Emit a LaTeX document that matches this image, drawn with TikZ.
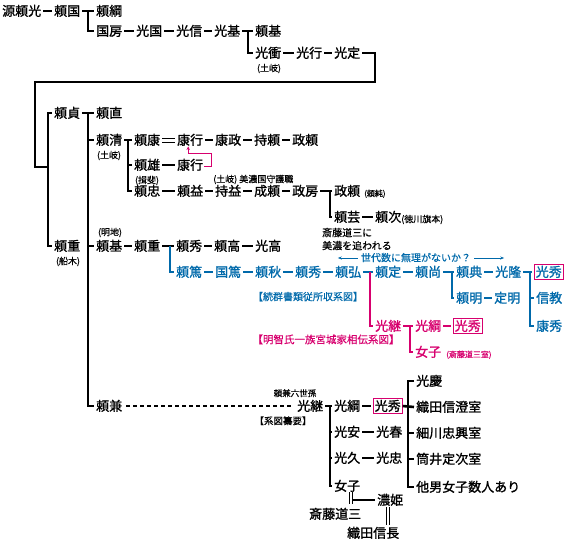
\documentclass[tikz,border=0pt]{standalone}
\usepackage{fontspec}
\newfontfamily\jp[FakeBold=1.3]{Noto Sans CJK JP}
\newfontfamily\jps[FakeBold=0.5]{Noto Sans CJK JP}
\usetikzlibrary{arrows.meta}
\definecolor{kblue}{RGB}{0,105,170}
\definecolor{kpink}{RGB}{215,0,110}
\tikzset{
  nm/.style={anchor=west, inner sep=0pt, font=\jp\fontsize{13}{13}\selectfont, text height=11pt, text depth=1.5pt},
  sm/.style={inner sep=0pt, font=\jps\fontsize{9}{9}\selectfont, text height=7.8pt, text depth=1pt},
  ln/.style={line width=2.6pt},
  bl/.style={text=kblue}, pk/.style={text=kpink},
  bx/.style={draw=kpink, line width=0.6pt, inner sep=1.5pt},
  dbl/.style={line width=0.9pt}
}
\newcommand\dashto[3][]{\draw[ln,#1] ([xshift=2pt]#2.east) -- ([xshift=-2pt]#3.west);}
\newcommand\forkto[4][]{\draw[ln,#1] (#3.east -| #2,0) |- ([xshift=-2pt]#4.west);}
\begin{document}
\begin{tikzpicture}[x=1pt,y=-1pt]
\useasboundingbox (0,0) rectangle (570,544);
% ---- top rows
\node[nm] (a1) at (2,11) {源頼光};
\node[nm] (a2) at (54,11) {頼国};
\node[nm] (a3) at (96,11) {頼綱};
\node[nm] (b1) at (96,31) {国房};
\node[nm] (b2) at (136,31) {光国};
\node[nm] (b3) at (176,31) {光信};
\node[nm] (b4) at (214,31) {光基};
\node[nm] (b5) at (255,31) {頼基};
\node[nm] (c1) at (255,53) {光衝};
\node[sm] (c1s) at (269,68) {(土岐)};
\node[nm] (c2) at (296,53) {光行};
\node[nm] (c3) at (334,53) {光定};
\dashto{a1}{a2}
\dashto{a2}{a3}
\forkto{88}{a2}{b1}
\dashto{b1}{b2}\dashto{b2}{b3}\dashto{b3}{b4}\dashto{b4}{b5}
\forkto{248}{b4}{c1}
\dashto{c1}{c2}\dashto{c2}{c3}
\draw[ln] ([xshift=2pt]c3.east) -| (375,82) -| (35,167) -- (48,167);
% ---- 頼貞
\node[nm] (d1) at (54,113) {頼貞};
\node[nm] (d2) at (96,113) {頼直};
\node[nm] (e1) at (54,246) {頼重};
\node[sm] (e1s) at (68,261) {(船木)};
\draw[ln] ([xshift=-2pt]d1.west) -| (48,200) |- ([xshift=-2pt]e1.west);
\dashto{d1}{d2}
% ---- 頼清
\node[nm] (f1) at (96,140) {頼清};
\node[sm] (f1s) at (109,155) {(土岐)};
\node[nm] (f2) at (134,140) {頼康};
\node[nm] (f3) at (177,140) {康行};
\node[nm] (f4) at (215,140) {康政};
\node[nm] (f5) at (254,140) {持頼};
\node[nm] (f6) at (292,140) {政頼};
\dashto{f1}{f2}
\draw[dbl] ([xshift=2pt,yshift=2pt]f2.east) -- ([xshift=-2pt,yshift=2pt]f3.west)
           ([xshift=2pt,yshift=-2pt]f2.east) -- ([xshift=-2pt,yshift=-2pt]f3.west);
\dashto{f3}{f4}\dashto{f4}{f5}\dashto{f5}{f6}
\node[nm] (p1) at (134,165) {頼雄};
\node[sm] (p1s) at (147,180) {(揖斐)};
\node[nm] (p2) at (177,165) {康行};
\dashto{p1}{p2}
\draw[kpink, line width=0.8pt, -{Stealth[length=3.5pt,width=3.5pt]}] ([xshift=1pt,yshift=-1pt]p2.east) -| (211,153) -| ([xshift=-2pt]f3.south);
\node[sm, anchor=west] (mino) at (213,179) {(土岐) 美濃国守護職};
\node[nm] (q1) at (134,191) {頼忠};
\node[nm] (q2) at (177,191) {頼益};
\node[nm] (q3) at (215,191) {持益};
\node[nm] (q4) at (254,191) {成頼};
\node[nm] (q5) at (292,191) {政房};
\node[nm] (q6) at (334,191) {政頼};
\node[sm, anchor=west, font=\jps\fontsize{8}{8}\selectfont] (q6s) at (364,193) {(頼純)};
\forkto{128}{f1}{p1}
\forkto{128}{f1}{q1}
\dashto{q1}{q2}\dashto{q2}{q3}\dashto{q3}{q4}\dashto{q4}{q5}\dashto{q5}{q6}
\node[nm] (r1) at (334,217) {頼芸};
\node[nm] (r2) at (375,217) {頼次};
\node[sm, anchor=west] (r2s) at (401,219) {(徳川旗本)};
\forkto{330}{q5}{r1}
\dashto{r1}{r2}
\node[sm, anchor=west, font=\jps\fontsize{10}{10}\selectfont] (sk1) at (322,233) {斎藤道三に};
\node[sm, anchor=west, font=\jps\fontsize{10}{10}\selectfont] (sk2) at (322,246) {美濃を追われる};
% ---- 頼基 row
\node[nm] (g1) at (96,246) {頼基};
\node[sm] (g1s) at (110,232) {(明地)};
\node[nm] (g2) at (134,246) {頼重};
\node[nm] (g3) at (176,246) {頼秀};
\node[nm] (g4) at (214,246) {頼高};
\node[nm] (g5) at (255,246) {光高};
\dashto{g1}{g2}\dashto{g2}{g3}\dashto{g3}{g4}\dashto{g4}{g5}
% ---- blue line
\node[nm,bl] (k1) at (176,272) {頼篤};
\node[nm,bl] (k2) at (215,272) {国篤};
\node[nm,bl] (k3) at (255,272) {頼秋};
\node[nm,bl] (k4) at (295,272) {頼秀};
\node[nm,bl] (k5) at (335,272) {頼弘};
\node[nm,bl] (k6) at (375,272) {頼定};
\node[nm,bl] (k7) at (415,272) {頼尚};
\node[nm,bl] (k8) at (456,272) {頼典};
\node[nm,bl] (k9) at (495,272) {光隆};
\node[nm,bl,bx] (k10) at (534,272) {光秀};
\forkto[kblue]{170}{g2}{k1}
\dashto[kblue]{k1}{k2}\dashto[kblue]{k2}{k3}\dashto[kblue]{k3}{k4}\dashto[kblue]{k4}{k5}
\dashto[kblue]{k5}{k6}\dashto[kblue]{k6}{k7}\dashto[kblue]{k7}{k8}\dashto[kblue]{k8}{k9}
\dashto[kblue]{k9}{k10}
\node[nm,bl] (m1) at (456,298) {頼明};
\node[nm,bl] (m2) at (494,298) {定明};
\node[nm,bl] (m3) at (536,298) {信教};
\node[nm,bl] (m4) at (536,326) {康秀};
\forkto[kblue]{452}{k7}{m1}
\dashto[kblue]{m1}{m2}
\forkto[kblue]{530}{k9}{m3}
\forkto[kblue]{530}{k9}{m4}
\node[sm, font=\jps\fontsize{10}{10}\selectfont, text=kblue] (sd) at (416,258) {世代数に無理がないか？};
\draw[kblue, line width=0.7pt, -{Stealth[length=4pt,width=3pt]}] ([xshift=-3pt]sd.west) -- ++(-20,0);
\draw[kblue, line width=0.7pt, -{Stealth[length=4pt,width=3pt]}] ([xshift=3pt]sd.east) -- ++(30,0);
\node[sm, font=\jps\fontsize{10}{10}\selectfont, text=kblue] (src1) at (308,297) {【続群書類従所収系図】};
% ---- pink line
\node[nm,pk] (n1) at (375,326) {光継};
\node[nm,pk] (n2) at (415,326) {光綱};
\node[nm,pk,bx] (n3) at (453,326) {光秀};
\node[nm,pk] (n4) at (415,352) {女子};
\node[sm, anchor=west, font=\jps\fontsize{8}{8}\selectfont, text=kpink] (n4s) at (446,354) {(斎藤道三室)};
\draw[ln,kpink] (k5.east -| 370,0) |- ([xshift=-2pt]n1.west);
\forkto[kpink]{410}{n1}{n4}
\dashto[kpink]{n1}{n2}\dashto[kpink]{n2}{n3}
\node[sm, font=\jps\fontsize{10.5}{10.5}\selectfont, text=kpink] (src2) at (326,340) {【明智氏一族宮城家相伝系図】};
% ---- 頼兼
\node[nm] (h1) at (96,406) {頼兼};
\forkto{88}{d1}{f1}
\forkto{88}{d1}{g1}
\forkto{88}{d1}{h1}
\node[sm, font=\jps\fontsize{8.5}{8.5}\selectfont] (rk6) at (295,393) {頼兼六世孫};
\node[sm, font=\jps\fontsize{9.5}{9.5}\selectfont] (src3) at (283,421) {【系図纂要】};
\node[nm] (s1) at (297,406) {光継};
\node[nm] (s2) at (334,406) {光綱};
\node[nm,bx] (s3) at (373,406) {光秀};
\draw[line width=2pt, dash pattern=on 4pt off 3pt] ([xshift=4pt]h1.east) -- ([xshift=-3pt]s1.west);
\dashto{s2}{s3}
\node[nm] (t1) at (334,432) {光安};
\node[nm] (t2) at (376,432) {光春};
\node[nm] (u1) at (334,458) {光久};
\node[nm] (u2) at (376,458) {光忠};
\node[nm] (w1) at (334,486) {女子};
\forkto{330}{s1}{s2}
\forkto{330}{s1}{t1}
\forkto{330}{s1}{u1}
\forkto{330}{s1}{w1}
\draw[ln] ([xshift=2pt]s1.east) -- ([xshift=-2pt]s2.west);
\dashto{t1}{t2}\dashto{u1}{u2}
\node[nm] (x1) at (416,381) {光慶};
\node[nm] (x2) at (416,407) {織田信澄室};
\node[nm] (x3) at (416,433) {細川忠興室};
\node[nm] (x4) at (416,459) {筒井定次室};
\node[nm] (x5) at (416,487) {他男女子数人あり};
\draw[ln] (s3.east) -- ([xshift=-2pt]x2.west);
\draw[ln] ([xshift=-2pt]x1.west) -| (408,440) |- ([xshift=-2pt]x5.west);
\forkto{408}{x1}{x3}
\forkto{408}{x1}{x4}
\node[nm] (y1) at (377,500) {濃姫};
\node[nm] (y2) at (309,514) {斎藤道三};
\node[nm] (y3) at (347,533) {織田信長};
\draw[dbl] (w1.south -| 349,0) -- ++(0,12) (w1.south -| 352.5,0) -- ++(0,12);
\draw[line width=1.3pt] (y1.west -| 353,0) -- ([xshift=-2pt]y1.west);
\draw[dbl] ([yshift=-1pt]y1.south -| 386.2,0) -- ([yshift=2pt]y3.north -| 386.2,0)
           ([yshift=-1pt]y1.south -| 389.8,0) -- ([yshift=2pt]y3.north -| 389.8,0);
\end{tikzpicture}
\end{document}
